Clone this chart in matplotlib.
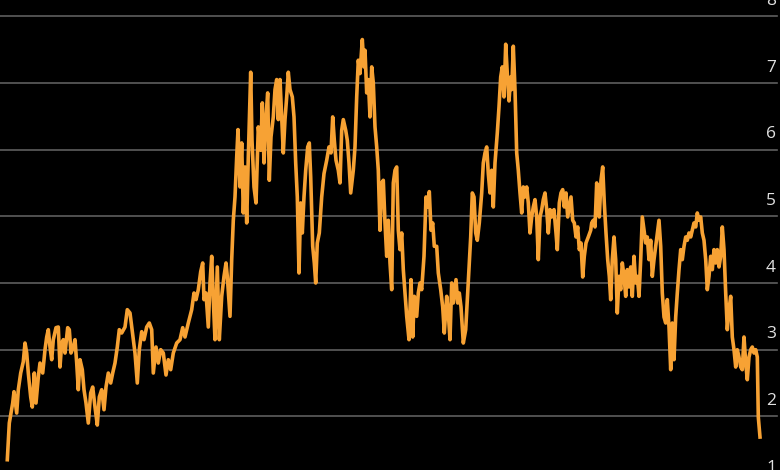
import numpy as np
from matplotlib import pyplot as plt

# time position (arbitrary units, left -> right) and value
t = [7.3, 9.3, 12.7, 14, 16.7, 18.3, 20.7, 23.3, 25, 26.7, 28.3, 30.7, 32.3, 34.3, 36,
     38.3, 40, 42.7, 45, 46.7, 48.3, 50, 51.7, 53.3, 56, 58.3, 60, 61.7, 63.3, 65, 67.7,
     69.3, 71, 73.3, 75, 76.7, 78.3, 80, 82.3, 84, 86, 88.3, 90.7, 92.7, 95, 97.3, 99.3,
     101.7, 104, 106, 108.3, 110.7, 112.7, 115, 117.3, 119.3, 121.7, 125, 127.3,
     130, 133.3, 135, 137.3, 139.3, 141.7, 144, 146.7, 149.3, 151.7, 153.3, 156, 158.3,
     160.7, 163.3, 166, 168.3, 170.7, 173.3, 176.7, 180, 182.7, 185, 188.3, 191.7, 194,
     196, 198.3, 200.7, 202.7, 204, 206, 208.3, 210, 211.7, 213.3, 215, 217.3, 219.3,
     221.7, 224, 226, 227.3, 230, 231.7,
     233.3, 235, 236.7, 238, 240, 241.7, 243.3, 245, 246.7, 248.3, 250.7, 252, 254, 256,
     258.3, 260.7, 262.3, 264, 266, 267.7, 269.3, 271, 273.3, 275, 276.7, 278.3, 280,
     281.7, 283.3, 285, 286.7, 288.3, 290, 292.3, 294, 295.7, 297.3, 299, 300.7, 302.3,
     304, 305.7, 307.7, 309.3, 310.7, 312.7, 314.3, 315.7, 317.3, 319.3, 321.7, 324,
     326.7, 329, 331, 332.7, 334.3, 336, 338.3, 340, 341.7, 343.3, 345.7, 347.3, 349,
     350.7, 353.3, 355, 356.7, 358.3,
     360, 362.3, 364, 365, 366.7, 368.3, 370, 371.7, 373.3, 375, 376.7, 378.3, 380, 381.7,
     383.3, 385, 386.7, 388.3, 390, 391.7, 393.3, 395, 396.7, 398.3, 400, 401.7, 403.3,
     405, 406.7, 409, 411, 412.7, 414.3, 416.7, 418.3, 420, 421.7, 424, 426, 427.7, 429.3,
     431, 432.7, 434.3, 436.7, 438.3, 440.7, 442.7, 444.3, 446.7, 448.3, 450, 451.7,
     453.3, 456, 457.7, 459.3, 461, 463.3, 465.7, 467.3, 469, 470.7, 472.3,
     474, 475.7, 477.3, 479.3, 481.7, 483.3, 485, 486.7, 488.3, 490, 491.7, 493.3, 495,
     497.3, 499, 500.7, 502.3, 504, 505.7, 507.3, 509, 510.7, 511.7, 513.3, 515, 516.7,
     518.3, 520, 521.7, 523.3, 525, 526.7, 528.3, 530, 531.7, 533.3, 535, 536.7, 538.3,
     540, 541.7, 543.3, 545, 546.7, 548.3, 550, 551.7, 554, 556, 557.3, 559.3, 561, 562.7,
     564.3, 566, 567.7, 569.3, 571, 572.7, 574.3, 576, 577.7, 579.3, 581, 582.7, 584.3,
     586, 588.3, 590.7,
     591.7, 593.3, 595, 596.7, 598.3, 599.3, 601, 602.7, 604.3, 606, 607.7, 609.3, 610.7,
     612.3, 614, 615.7, 617.3, 619, 620.7, 622.3, 624, 625.7, 627.3, 629, 630.7, 632.3,
     634, 635.7, 637.3, 639, 640.7, 642.3, 644, 645.7, 647.3, 649, 650.7, 652.3, 654,
     655.7, 657.3, 659, 660.7, 662.3, 664, 665.7, 667.3, 669, 670.7, 672.3, 674, 675.7,
     677.3, 679, 680.7, 682.3, 684, 685.7, 687.3, 689, 690.7, 692.3, 694, 695.7, 697.3,
     699, 700.7, 702.3, 704, 705.7, 707.3, 709, 710.7, 712.3, 714, 715.7, 717.3, 719,
     720.7, 722.3, 724, 725.7, 727.3, 729, 730.7, 732.3, 734, 735.7, 737.3, 739, 740.7,
     742.3, 744, 745.7, 747.3, 749, 750.7, 752.3, 754, 755.7, 757.3, 758.3, 760]

rate = [1.35, 1.90, 2.2, 2.37, 2.05, 2.4, 2.65, 2.82, 3.1, 2.95, 2.65, 2.29, 2.14, 2.65, 2.2,
        2.59, 2.8, 2.65, 3.0, 3.19, 3.3, 3.04, 2.85, 3.15, 3.33, 3.34, 2.74, 3.1, 3.15, 2.95, 3.33,
        3.3, 2.95, 3.04, 3.15, 2.8, 2.4, 2.85, 2.7, 2.4, 2.2, 1.9, 2.35, 2.44, 2.14, 1.87, 2.29,
        2.4, 2.1, 2.44, 2.65, 2.5, 2.65, 2.8, 3.04, 3.3, 3.25, 3.34, 3.6,
        3.55, 3.15, 2.95, 2.5, 3.0, 3.27, 3.15, 3.34, 3.4, 3.3, 2.65, 3.04, 2.8,
        3.0, 2.95, 2.62, 2.85, 2.7, 2.95, 3.1, 3.15, 3.33, 3.19, 3.4, 3.6, 3.85,
        3.75, 3.9, 4.17, 4.3, 3.75, 3.85, 3.34, 4.0, 4.4, 3.75, 3.15, 4.24, 3.15,
        3.8, 4.1, 4.3, 4.1, 3.5, 4.35,
        4.94, 5.29, 5.89, 6.3, 5.44, 6.1, 5.05, 5.74, 4.9, 5.89, 7.16, 6.14, 5.44, 5.2,
        6.34, 5.99, 6.7, 5.8, 6.49, 6.85, 5.54, 6.19, 6.49, 6.9, 7.05, 6.45, 7.05,
        6.49, 5.95, 6.45, 6.79, 7.16, 6.9, 6.79, 6.49, 5.8, 5.29, 4.15, 5.2, 4.75,
        5.29, 5.69, 6.04, 6.1, 5.59, 4.55, 4.3, 4.0, 4.6, 4.75, 5.29, 5.64,
        5.84, 6.04, 5.95, 6.49, 6.14, 5.84, 5.69, 5.5, 6.29, 6.45, 6.29, 6.14, 5.8,
        5.35, 5.69, 6.04, 6.79, 7.34,
        7.14, 7.65, 7.24, 7.49, 6.85, 7.05, 6.49, 7.24, 7.0, 6.34, 6.04, 5.69, 4.79, 5.5,
        5.54, 4.9, 4.4, 4.94, 4.3, 3.9, 5.5, 5.69, 5.74, 4.79, 4.5, 4.75, 4.2,
        3.85, 3.5, 3.15, 4.05, 3.19, 3.8, 3.5, 3.85, 4.0, 3.9, 4.4, 5.29, 5.14, 5.37,
        4.79, 4.9, 4.55, 4.55, 4.15, 3.9, 3.64, 3.25, 3.8, 3.55, 3.15, 4.0,
        3.7, 4.05, 3.7, 3.85, 3.64, 3.1, 3.3, 3.75, 4.2, 4.69, 5.35,
        5.29, 4.75, 4.64, 4.9, 5.35, 5.8, 5.95, 6.04, 5.64, 5.35, 5.69, 5.14, 5.8,
        6.25, 6.64, 7.09, 7.24, 6.79, 7.58, 7.14, 6.73, 7.09, 6.9, 7.55, 6.9, 5.95,
        5.69, 5.35, 5.05, 5.44, 5.29, 5.44, 5.2, 4.75, 4.99, 5.14, 5.25, 4.99, 4.35,
        4.99, 5.1, 5.25, 5.35, 5.1, 4.75, 5.1, 4.99, 5.1, 4.75, 4.5, 5.2, 5.35, 5.4,
        5.14, 5.35, 4.99, 5.14, 5.29, 4.94, 4.9, 4.69, 4.84, 4.5, 4.6, 4.09, 4.4,
        4.6, 4.69, 4.79,
        4.9, 4.94, 4.84, 5.5, 5.14, 4.99, 5.54, 5.74, 5.2, 4.75, 4.35, 4.1, 3.75,
        4.35, 4.69, 4.35, 3.55, 4.1, 3.9, 4.3, 4.1, 3.8, 4.2, 3.94, 4.24, 3.8,
        4.4, 4.0, 4.1, 3.8, 4.35, 4.99, 4.79, 4.6, 4.69, 4.35, 4.64, 4.1, 4.35,
        4.55, 4.75, 4.94, 4.55, 3.85, 3.49, 3.4, 3.75, 3.34, 2.7, 3.4, 2.85, 3.49,
        3.85, 4.2, 4.5, 4.35, 4.55, 4.69, 4.64, 4.75, 4.69, 4.79, 4.9, 4.84, 5.05,
        4.94, 4.99, 4.75, 4.64, 4.35, 3.9, 4.1, 4.4, 4.2, 4.5, 4.3, 4.5, 4.24,
        4.4, 4.84, 4.5, 3.85, 3.3, 3.6, 3.8, 3.19, 3.0, 2.74, 3.0, 2.89, 2.74,
        2.7, 3.19, 2.8, 2.55, 2.89, 3.0, 3.04, 2.95, 3.0, 2.89, 1.99, 1.69]

ticks = [1, 2, 3, 4, 5, 6, 7, 8]

fig = plt.figure(figsize=(7.8, 4.7), dpi=100, facecolor='black')
ax = fig.add_axes([0, 0, 1, 1])
ax.set_facecolor('black')
ax.set_xlim(0, 780)
ax.set_ylim(1.196, 8.243)

for v in ticks:
    ax.axhline(v, xmin=0, xmax=777 / 780, color='#5e5e5e', lw=1.2, zorder=1)
    ax.text(776, v + 0.11, str(v), ha='right', va='bottom', color='#e0e0e0',
            fontsize=12.5, family='Open Sans', zorder=3)

ax.plot(t, rate, color='#f7a234', lw=2.6, solid_joinstyle='round', zorder=2)

ax.axis('off')
plt.savefig('out.png', dpi=100, facecolor='black')
